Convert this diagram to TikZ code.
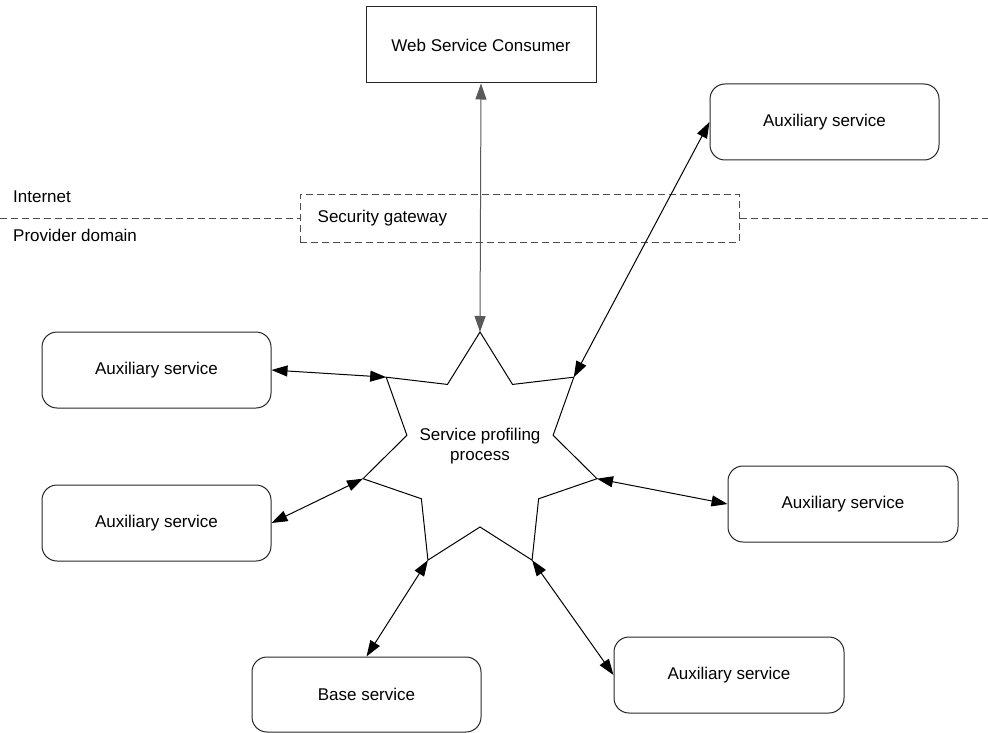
\documentclass[tikz,border=0pt]{standalone}
\usepackage{fontspec}
\setmainfont{Liberation Sans}
\usetikzlibrary{arrows.meta}
\begin{document}
\begin{tikzpicture}[x=1pt,y=-1pt,
  every node/.style={font=\fontsize{17pt}{20pt}\selectfont, inner sep=0pt},
  plainbox/.style={draw=black!85, line width=1pt, minimum width=230pt, minimum height=76pt},
  roundbox/.style={draw=black!85, line width=1pt, rounded corners=15pt, minimum width=229pt, minimum height=76pt},
  gwbox/.style={draw=black!70, line width=1pt, dash pattern=on 7pt off 4pt, minimum width=439pt, minimum height=48pt},
  divider/.style={draw=black!70, line width=1pt, dash pattern=on 7pt off 4pt},
  link/.style={line width=1pt, draw=black, {Triangle[length=16pt,width=11pt]}-{Triangle[length=16pt,width=11pt]}},
  starline/.style={draw=black, line width=1pt, line join=miter}
]
\useasboundingbox (0,0) rectangle (988,733);

% boxes
\node[plainbox] (wsc) at (481,45) {Web Service Consumer};
\node[roundbox] (auxTR) at (824.5,122) {Auxiliary service};
\node[roundbox] (auxL1) at (156.5,370) {Auxiliary service};
\node[roundbox] (auxL2) at (156.5,523) {Auxiliary service};
\node[roundbox, minimum width=230pt] (auxR) at (843,504) {Auxiliary service};
\node[roundbox, minimum height=75pt] (base) at (366.5,694.5) {Base service};
\node[roundbox, minimum width=230pt] (auxBR) at (729,675) {Auxiliary service};

% domain divider and gateway
\node[gwbox] (gw) at (519.5,218) {};
\node[anchor=west] (gwlabel) at ([xshift=18pt]gw.west) {Security gateway};
\coordinate (divL) at (0,218);
\coordinate (divR) at (988,218);
\draw[divider] (divL) -- (gw.west);
\draw[divider] (gw.east) -- (divR);
\node[anchor=base west] (internet) at (13,202) {Internet};
\node[anchor=base west] (provider) at (13,241) {Provider domain};

% star
\foreach \k in {0,...,6} {
  \coordinate (o\k) at ({480+120*cos(90-\k*360/7)},{452-120*sin(90-\k*360/7)});
  \coordinate (i\k) at ({480+75*cos(90-180/7-\k*360/7)},{452-75*sin(90-180/7-\k*360/7)});
}
\draw[starline] (o0) -- (i0) -- (o1) -- (i1) -- (o2) -- (i2) -- (o3) -- (i3) -- (o4) -- (i4) -- (o5) -- (i5) -- (o6) -- (i6) -- cycle;
\node[align=center] (spp) at (480,446) {Service profiling\\process};

% connectors
\draw[link, draw=black!65] (wsc.south) -- (o0);
\draw[link] (auxTR.west) -- (o1);
\draw[link] (auxR.west) -- (o2);
\draw[link] (auxBR.west) -- (o3);
\draw[link] (base.north) -- (o4);
\draw[link] (auxL2.east) -- (o5);
\draw[link] (auxL1.east) -- (o6);
\end{tikzpicture}
\end{document}
